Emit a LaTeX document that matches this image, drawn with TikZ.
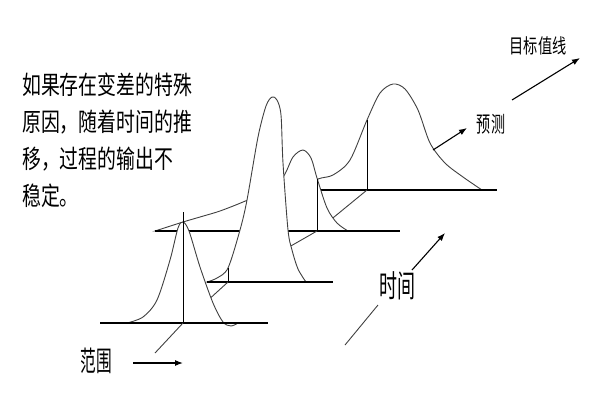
\documentclass[tikz,border=0pt]{standalone}
\usepackage{fontspec}
\newfontfamily\cjk{Noto Sans CJK SC}
\usetikzlibrary{arrows.meta}

\begin{document}
\begin{tikzpicture}[x=1pt, y=-1pt,
    curve/.style={line width=0.9pt, draw=black!75, fill=white},
    base/.style={line width=1.5pt},
    centre/.style={line width=0.9pt},
    axis/.style={line width=0.9pt, black!75},
    arr/.style={-{Latex[length=8pt,width=6pt]}, line width=1.1pt}]
\useasboundingbox (0,0) rectangle (600,400);

\coordinate (c0) at (155,353);
\coordinate (c1) at (183,323);
\coordinate (c2) at (228,282);
\coordinate (c3) at (317,231);
\coordinate (c4) at (367,190);

\filldraw[curve] plot[smooth] coordinates {(298,190) (318,179) (333,175) (350,160) (367,120)
    (380,93) (393,84) (405,89) (418,110) (430,143) (445,163) (463,177) (482,190)} -- cycle;
\draw[base] (320,190) -- (497,190);
\draw[centre] (c4) -- (367,120);
\draw[axis] (c3) -- (c4);

\filldraw[curve] plot[smooth] coordinates {(155,231) (183,222) (200,217) (220,211) (243,202)
    (265,192) (283,177) (293,157) (303,150) (311,158) (317,178) (327,208) (337,223) (348,231)} -- cycle;
\draw[base] (155,231) -- (400,231);
\draw[centre] (c3) -- (317,179);
\draw[axis] (c2) -- (c3);

\filldraw[curve] plot[smooth] coordinates {(207,282) (217,278) (228,268) (240,230) (247,200)
    (258,137) (266,106) (272,97) (277,100) (281,115) (283,163) (288,230) (292,250) (298,269) (306,282)} -- cycle;
\draw[base] (207,282) -- (333,282);
\draw[centre] (c2) -- (228,268);
\draw[axis] (c1) -- (c2);

\filldraw[curve] plot[smooth] coordinates {(127,323) (143,317) (157,300) (170,260) (178,228)
    (183,222) (189,231) (200,267) (213,303) (223,322) (231,326) (238,323)} -- cycle;
\draw[base] (100,323) -- (268,323);
\draw[centre] (c1) -- (183,212);
\draw[axis] (c0) -- (c1);

\node[anchor=north west, inner sep=0pt, align=left, xscale=0.74,
    font=\cjk\fontsize{25.5}{37}\selectfont] (note) at (22,73)
    {如果存在变差的特殊\\原因，随着时间的推\\移，过程的输出不\\稳定。};

\node[inner sep=0pt, xscale=0.56, font=\cjk\fontsize{28}{28}\selectfont] (range) at (96,361) {范围};
\coordinate (r0) at (133,363);
\coordinate (r1) at (183,363);
\draw[arr] (r0) -- (r1);

\node[inner sep=0pt, xscale=0.58, font=\cjk\fontsize{31}{31}\selectfont] (time) at (397,286) {时间};
\coordinate (t0) at (345,345);
\coordinate (t1) at (378,305);
\coordinate (t2) at (412,270);
\coordinate (t3) at (445,233);
\draw[axis] (t0) -- (t1);
\draw[arr] (t2) -- (t3);

\node[inner sep=0pt, xscale=0.64, font=\cjk\fontsize{22}{22}\selectfont] (fcst) at (491,124) {预测};
\coordinate (f0) at (433,150);
\coordinate (f1) at (467,128);
\draw[arr] (f0) -- (f1);

\node[inner sep=0pt, xscale=0.71, font=\cjk\fontsize{20}{20}\selectfont] (target) at (538,46) {目标值线};
\coordinate (g0) at (512,100);
\coordinate (g1) at (580,58);
\draw[arr] (g0) -- (g1);
\end{tikzpicture}
\end{document}
